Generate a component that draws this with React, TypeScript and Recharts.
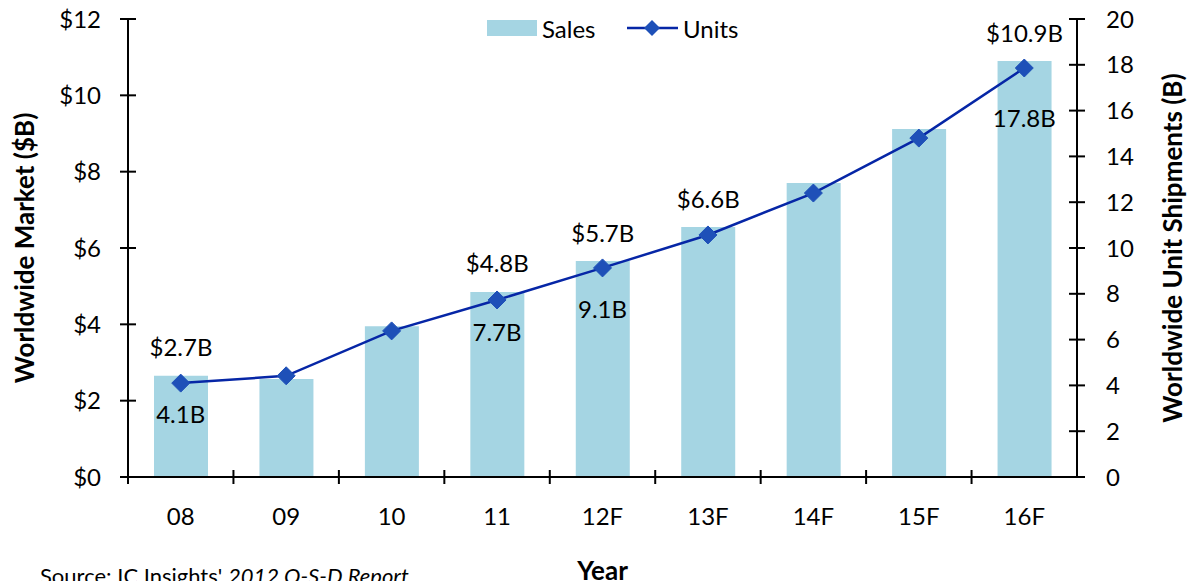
import React from 'react';
import { ComposedChart, Bar, Line, XAxis, YAxis, LabelList } from 'recharts';

const years = ['08', '09', '10', '11', '12F', '13F', '14F', '15F', '16F'];
const sales = [2.65, 2.57, 3.95, 4.85, 5.66, 6.55, 7.7, 9.12, 10.9];
const units = [4.1, 4.42, 6.38, 7.73, 9.13, 10.57, 12.4, 14.8, 17.86];
const salesLabels = ['$2.7B', '', '', '$4.8B', '$5.7B', '$6.6B', '', '', '$10.9B'];
const unitLabels = ['4.1B', '', '', '7.7B', '9.1B', '', '', '', '17.8B'];
const leftTicks = [0, 2, 4, 6, 8, 10, 12];
const rightTicks = [0, 2, 4, 6, 8, 10, 12, 14, 16, 18, 20];

const data = years.map((year, i) => ({
  year,
  sales: sales[i],
  units: units[i],
  salesLabel: salesLabels[i],
  unitLabel: unitLabels[i],
}));

const FONT = 'Lato, "Open Sans", sans-serif';
const BAR = '#A5D5E3';
const LINE = '#0626A6';
const DOT = '#1E50B8';
const FS = 24;
const TITLE_FS = 26;
const BAND = (1077 - 128) / years.length;

// how far below the point each units label sits (hand placed in the original)
const unitLabelGap: Record<number, number> = { 0: 31, 3: 32, 4: 41, 8: 50 };

const LeftTick = (props: any) => {
  const { x, y, payload } = props;
  return (
    <g>
      <line x1={x - 8} x2={x + 8} y1={y} y2={y} stroke="#000" strokeWidth={2} />
      <text x={x - 27} y={y + 8.6} textAnchor="end" fontSize={FS} fill="#000">
        ${payload.value}
      </text>
    </g>
  );
};

const RightTick = (props: any) => {
  const { x, y, payload } = props;
  return (
    <g>
      <line x1={x - 8} x2={x + 8} y1={y} y2={y} stroke="#000" strokeWidth={2} />
      <text x={x + 29} y={y + 8.6} textAnchor="start" fontSize={FS} fill="#000">
        {payload.value}
      </text>
    </g>
  );
};

const BottomTick = (props: any) => {
  const { x, y, payload } = props;
  const half = payload.offset || BAND / 2;
  return (
    <g>
      <line x1={x - half} x2={x - half} y1={y - 7} y2={y + 7} stroke="#000" strokeWidth={2} />
      <text x={x} y={y + 39 + 8.6} textAnchor="middle" fontSize={FS} fill="#000">
        {payload.value}
      </text>
    </g>
  );
};

const SalesLabel = (props: any) => {
  const { x, y, width, value } = props;
  if (!value) return null;
  return (
    <text x={x + width / 2} y={y - 28 + 8.6} textAnchor="middle" fontSize={FS} fill="#000">
      {value}
    </text>
  );
};

const UnitLabel = (props: any) => {
  const { x, y, value, index } = props;
  if (!value) return null;
  const gap = unitLabelGap[index] ?? 31;
  return (
    <text x={x} y={y + gap + 8.6} textAnchor="middle" fontSize={FS} fill="#000">
      {value}
    </text>
  );
};

const Diamond = (props: any) => {
  const { cx, cy, index } = props;
  const r = 9;
  return (
    <path
      key={`d-${index}`}
      d={`M${cx},${cy - r} L${cx + r},${cy} L${cx},${cy + r} L${cx - r},${cy} Z`}
      fill={DOT}
      stroke={DOT}
      strokeWidth={1}
      strokeLinejoin="round"
    />
  );
};

export default function App() {
  return (
    <div style={{ position: 'absolute', left: 0, top: 0, width: 1188, height: 581, fontFamily: FONT, background: '#fff' }}>
      <ComposedChart
        width={1188}
        height={581}
        data={data}
        margin={{ top: 19, right: 0, bottom: 0, left: 0 }}
      >
        <XAxis
          dataKey="year"
          height={104}
          tickLine={false}
          tickSize={0}
          tickMargin={0}
          axisLine={{ stroke: '#000', strokeWidth: 2 }}
          tick={<BottomTick />}
          interval={0}
          label={{
            content: (p: any) => {
              const vb = p.viewBox;
              return (
                <g>
                  <text x={vb.x + vb.width / 2} y={580} textAnchor="middle" fontSize={TITLE_FS} fontWeight="bold" fill="#000">
                    Year
                  </text>
                  <text x={40} y={584} fontSize={22} fill="#000">
                    Source: IC Insights' <tspan fontStyle="italic">2012 O-S-D Report</tspan>
                  </text>
                </g>
              );
            },
          }}
        />
        <YAxis
          yAxisId="left"
          orientation="left"
          width={128}
          domain={[0, 12]}
          ticks={leftTicks}
          interval={0}
          tickLine={false}
          tickSize={0}
          tickMargin={0}
          axisLine={{ stroke: '#000', strokeWidth: 2 }}
          tick={<LeftTick />}
          label={{
            content: (p: any) => {
              const vb = p.viewBox;
              const cy = vb.y + vb.height / 2;
              return (
                <text
                  x={25}
                  y={cy}
                  transform={`rotate(-90 25 ${cy})`}
                  textAnchor="middle"
                  dy={9}
                  fontSize={TITLE_FS}
                  fontWeight="bold"
                  fill="#000"
                >
                  Worldwide Market ($B)
                </text>
              );
            },
          }}
        />
        <YAxis
          yAxisId="right"
          orientation="right"
          width={111}
          domain={[0, 20]}
          ticks={rightTicks}
          interval={0}
          tickLine={false}
          tickSize={0}
          tickMargin={0}
          axisLine={{ stroke: '#000', strokeWidth: 2 }}
          tick={<RightTick />}
          label={{
            content: (p: any) => {
              const vb = p.viewBox;
              const cy = vb.y + vb.height / 2;
              return (
                <text
                  x={1173}
                  y={cy}
                  transform={`rotate(-90 1173 ${cy})`}
                  textAnchor="middle"
                  dy={9}
                  fontSize={TITLE_FS}
                  fontWeight="bold"
                  fill="#000"
                >
                  Worldwide Unit Shipments (B)
                </text>
              );
            },
          }}
        />
        <Bar yAxisId="left" dataKey="sales" fill={BAR} barSize={54} isAnimationActive={false}>
          <LabelList dataKey="salesLabel" content={<SalesLabel />} />
        </Bar>
        <Line
          yAxisId="right"
          dataKey="units"
          stroke={LINE}
          strokeWidth={2.5}
          dot={Diamond}
          activeDot={false}
          isAnimationActive={false}
        >
          <LabelList dataKey="unitLabel" content={<UnitLabel />} />
        </Line>
      </ComposedChart>
      <svg
        width={1188}
        height={60}
        style={{ position: 'absolute', left: 0, top: 0, pointerEvents: 'none' }}
      >
        <rect x={487} y={20} width={50} height={16} fill={BAR} />
        <text x={542} y={29 + 8.6} fontSize={FS} fill="#000">Sales</text>
        <line x1={627} x2={678} y1={28} y2={28} stroke={LINE} strokeWidth={2.5} />
        <path d="M652,20 L660,28 L652,36 L644,28 Z" fill={DOT} />
        <text x={683} y={29 + 8.6} fontSize={FS} fill="#000">Units</text>
      </svg>
    </div>
  );
}
